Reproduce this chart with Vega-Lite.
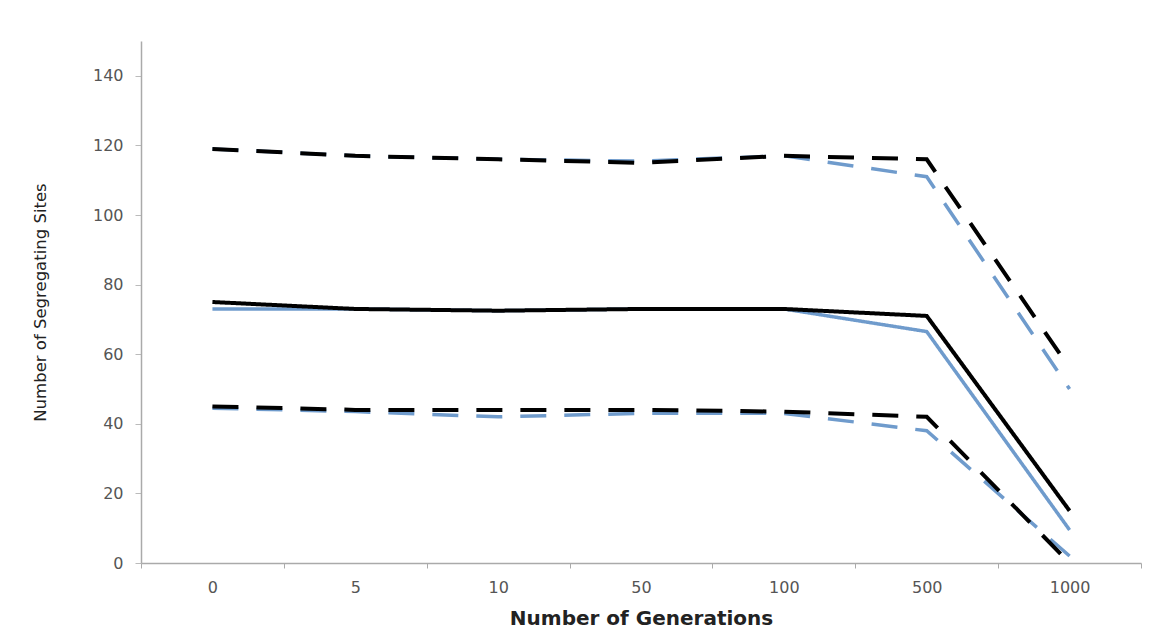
{
  "$schema": "https://vega.github.io/schema/vega-lite/v6.json",
  "width": 1000,
  "height": 522,
  "autosize": "none",
  "padding": {"left": 141, "top": 41, "right": 26, "bottom": 76},
  "background": "white",
  "config": {"view": {"stroke": null}, "font": "DejaVu Sans"},
  "data": {"values": [
    {"gen": "0", "color": "blue", "kind": "mean", "v": 73},
    {"gen": "5", "color": "blue", "kind": "mean", "v": 73},
    {"gen": "10", "color": "blue", "kind": "mean", "v": 72.5},
    {"gen": "50", "color": "blue", "kind": "mean", "v": 73},
    {"gen": "100", "color": "blue", "kind": "mean", "v": 73},
    {"gen": "500", "color": "blue", "kind": "mean", "v": 66.5},
    {"gen": "1000", "color": "blue", "kind": "mean", "v": 9.5},
    {"gen": "0", "color": "blue", "kind": "upper", "v": 119},
    {"gen": "5", "color": "blue", "kind": "upper", "v": 117},
    {"gen": "10", "color": "blue", "kind": "upper", "v": 116},
    {"gen": "50", "color": "blue", "kind": "upper", "v": 115.5},
    {"gen": "100", "color": "blue", "kind": "upper", "v": 117},
    {"gen": "500", "color": "blue", "kind": "upper", "v": 111},
    {"gen": "1000", "color": "blue", "kind": "upper", "v": 50},
    {"gen": "0", "color": "blue", "kind": "lower", "v": 44.5},
    {"gen": "5", "color": "blue", "kind": "lower", "v": 43.5},
    {"gen": "10", "color": "blue", "kind": "lower", "v": 42},
    {"gen": "50", "color": "blue", "kind": "lower", "v": 43},
    {"gen": "100", "color": "blue", "kind": "lower", "v": 43},
    {"gen": "500", "color": "blue", "kind": "lower", "v": 38},
    {"gen": "1000", "color": "blue", "kind": "lower", "v": 2},
    {"gen": "0", "color": "black", "kind": "mean", "v": 75},
    {"gen": "5", "color": "black", "kind": "mean", "v": 73},
    {"gen": "10", "color": "black", "kind": "mean", "v": 72.5},
    {"gen": "50", "color": "black", "kind": "mean", "v": 73},
    {"gen": "100", "color": "black", "kind": "mean", "v": 73},
    {"gen": "500", "color": "black", "kind": "mean", "v": 71},
    {"gen": "1000", "color": "black", "kind": "mean", "v": 15},
    {"gen": "0", "color": "black", "kind": "upper", "v": 119},
    {"gen": "5", "color": "black", "kind": "upper", "v": 117},
    {"gen": "10", "color": "black", "kind": "upper", "v": 116},
    {"gen": "50", "color": "black", "kind": "upper", "v": 115},
    {"gen": "100", "color": "black", "kind": "upper", "v": 117},
    {"gen": "500", "color": "black", "kind": "upper", "v": 116},
    {"gen": "1000", "color": "black", "kind": "upper", "v": 56},
    {"gen": "0", "color": "black", "kind": "lower", "v": 45},
    {"gen": "5", "color": "black", "kind": "lower", "v": 44},
    {"gen": "10", "color": "black", "kind": "lower", "v": 44},
    {"gen": "50", "color": "black", "kind": "lower", "v": 44},
    {"gen": "100", "color": "black", "kind": "lower", "v": 43.5},
    {"gen": "500", "color": "black", "kind": "lower", "v": 42},
    {"gen": "1000", "color": "black", "kind": "lower", "v": 0}
  ]},
  "encoding": {
    "x": {
      "field": "gen", "type": "ordinal", "bandPosition": 0.5,
      "sort": ["0", "5", "10", "50", "100", "500", "1000"],
      "scale": {"type": "band", "paddingInner": 0, "paddingOuter": 0},
      "axis": {
        "title": "Number of Generations", "titleFont": "DejaVu Sans", "titleFontSize": 20,
        "titleFontWeight": "bold", "titleColor": "#222", "titlePadding": 13,
        "labelAngle": 0, "labelFont": "DejaVu Sans", "labelFontSize": 16, "labelColor": "#555", "labelPadding": 11,
        "tickBand": "extent", "tickSize": 5, "tickColor": "#aaa",
        "domainColor": "#aaa", "domainWidth": 1.5
      }
    },
    "y": {
      "field": "v", "type": "quantitative",
      "scale": {"domain": [0, 150], "nice": false},
      "axis": {
        "title": "Number of Segregating Sites", "titleFont": "DejaVu Sans", "titleFontSize": 16.5,
        "titleFontWeight": "normal", "titleColor": "#222", "titlePadding": 44,
        "values": [0, 20, 40, 60, 80, 100, 120, 140], "grid": false,
        "labelFont": "DejaVu Sans", "labelFontSize": 16, "labelColor": "#555", "labelPadding": 12,
        "tickSize": 6, "tickColor": "#bbb", "domainColor": "#aaa", "domainWidth": 1.5
      }
    },
    "detail": {"field": "kind"},
    "strokeDash": {
      "field": "kind", "type": "nominal", "legend": null,
      "scale": {"domain": ["mean", "upper", "lower"], "range": [[1, 0], [26, 18], [26, 18]]}
    }
  },
  "layer": [
    {
      "transform": [{"filter": "datum.color === 'blue'"}],
      "mark": {"type": "line", "color": "#6f9bcc", "strokeWidth": 3.5}
    },
    {
      "transform": [{"filter": "datum.color === 'black'"}],
      "mark": {"type": "line", "color": "#000000", "strokeWidth": 4}
    }
  ]
}
